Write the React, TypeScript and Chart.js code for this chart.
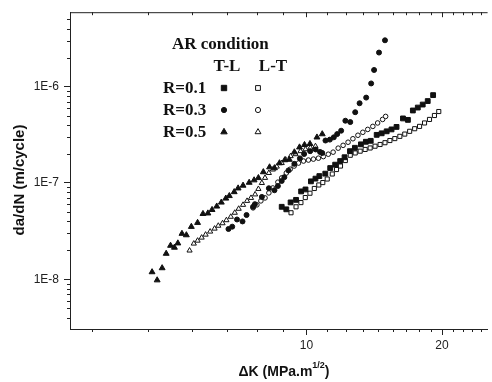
import React, { useEffect, useRef } from 'react';
import { Chart, registerables } from 'chart.js';

Chart.register(...registerables);

// ---------- data (ΔK in MPa·m^1/2, da/dN in m/cycle) ----------
const r01TL_dK = [8.81, 9.02, 9.22, 9.48, 9.73, 9.95, 10.23, 10.47, 10.68, 11.01, 11.29, 11.58, 11.88, 12.15, 12.49, 12.81, 13.21, 13.55, 13.89, 14.32, 14.69, 15.07, 15.45, 15.85, 16.38, 16.8, 17.23, 17.67, 18.12, 18.59, 19.11];
const r01TL_rate = [5.66e-8, 5.33e-8, 6.29e-8, 6.68e-8, 8.18e-8, 8.57e-8, 1.04e-7, 1.11e-7, 1.18e-7, 1.25e-7, 1.43e-7, 1.55e-7, 1.69e-7, 1.85e-7, 2.14e-7, 2.32e-7, 2.52e-7, 2.68e-7, 2.74e-7, 3.16e-7, 3.28e-7, 3.44e-7, 3.6e-7, 3.82e-7, 4.68e-7, 4.52e-7, 5.66e-7, 6.07e-7, 6.52e-7, 7.09e-7, 8.17e-7];

const r01LT_dK = [9.24, 9.48, 9.72, 9.94, 10.18, 10.41, 10.65, 10.87, 11.12, 11.41, 11.66, 11.9, 12.2, 12.51, 12.83, 13.16, 13.5, 13.85, 14.2, 14.57, 14.94, 15.32, 15.71, 16.12, 16.53, 16.95, 17.39, 17.83, 18.29, 18.76, 19.24, 19.67];
const r01LT_rate = [4.91e-8, 5.66e-8, 6.26e-8, 7.06e-8, 7.83e-8, 8.77e-8, 9.54e-8, 1.01e-7, 1.1e-7, 1.24e-7, 1.38e-7, 1.5e-7, 1.71e-7, 1.94e-7, 2.05e-7, 2.14e-7, 2.23e-7, 2.31e-7, 2.41e-7, 2.51e-7, 2.62e-7, 2.76e-7, 2.89e-7, 3.05e-7, 3.22e-7, 3.44e-7, 3.66e-7, 3.87e-7, 4.2e-7, 4.57e-7, 5.02e-7, 5.52e-7];

const r03TL_dK = [6.71, 6.84, 7.01, 7.21, 7.36, 7.61, 7.68, 7.96, 8.25, 8.49, 8.64, 8.81, 8.93, 9.12, 9.4, 9.67, 9.88, 10.19, 10.48, 10.72, 10.84, 11.02, 11.27, 11.5, 11.7, 11.94, 12.2, 12.51, 12.83, 13.12, 13.57, 13.92, 14.13, 14.49, 14.94];
const r03TL_rate = [3.33e-8, 3.52e-8, 4.18e-8, 3.99e-8, 4.65e-8, 5.66e-8, 6.03e-8, 7.17e-8, 8.82e-8, 8.41e-8, 9.31e-8, 1.05e-7, 1.15e-7, 1.35e-7, 1.58e-7, 1.8e-7, 2.0e-7, 2.14e-7, 2.23e-7, 2.1e-7, 2.05e-7, 2.76e-7, 2.82e-7, 2.98e-7, 3.22e-7, 3.49e-7, 4.43e-7, 4.29e-7, 5.43e-7, 6.73e-7, 7.7e-7, 1.08e-6, 1.49e-6, 2.26e-6, 3.03e-6];

const r03LT_dK = [7.61, 7.76, 7.92, 8.09, 8.25, 8.42, 8.64, 8.81, 9.02, 9.2, 9.39, 9.6, 9.85, 10.1, 10.36, 10.63, 10.9, 11.18, 11.46, 11.76, 12.06, 12.37, 12.68, 13.01, 13.34, 13.68, 14.04, 14.39, 14.76, 14.99];
const r03LT_rate = [5.52e-8, 5.93e-8, 6.52e-8, 7.0e-8, 7.89e-8, 8.88e-8, 1.02e-7, 1.13e-7, 1.27e-7, 1.39e-7, 1.5e-7, 1.61e-7, 1.69e-7, 1.73e-7, 1.77e-7, 1.81e-7, 1.88e-7, 1.99e-7, 2.09e-7, 2.3e-7, 2.46e-7, 2.65e-7, 2.88e-7, 3.13e-7, 3.36e-7, 3.6e-7, 3.87e-7, 4.2e-7, 4.57e-7, 4.91e-7];

const r05TL_dK = [4.54, 4.66, 4.78, 4.88, 4.99, 5.09, 5.18, 5.29, 5.41, 5.55, 5.73, 5.89, 6.04, 6.17, 6.32, 6.47, 6.62, 6.74, 6.91, 7.05, 7.23, 7.46, 7.65, 7.82, 8.02, 8.28, 8.49, 8.71, 8.95, 9.16, 9.4, 9.65, 9.9, 10.18, 10.55, 10.84];
const r05TL_rate = [1.19e-8, 9.8e-9, 1.31e-8, 1.85e-8, 2.24e-8, 2.14e-8, 2.37e-8, 2.98e-8, 2.88e-8, 3.52e-8, 3.87e-8, 4.79e-8, 4.85e-8, 5.27e-8, 5.72e-8, 6.29e-8, 6.92e-8, 7.35e-8, 8.07e-8, 8.82e-8, 9.42e-8, 1.01e-7, 1.07e-7, 1.13e-7, 1.3e-7, 1.46e-7, 1.43e-7, 1.61e-7, 1.73e-7, 1.75e-7, 2.09e-7, 2.35e-7, 2.49e-7, 2.55e-7, 2.98e-7, 3.22e-7];

const r05LT_dK = [5.5, 5.62, 5.73, 5.85, 5.97, 6.11, 6.25, 6.37, 6.51, 6.64, 6.79, 6.93, 7.07, 7.23, 7.38, 7.53, 7.69, 7.82, 7.96, 8.09, 8.25, 8.42, 8.59, 8.81, 8.99, 9.22, 9.46, 9.7, 9.95, 10.2, 10.47];
const r05LT_rate = [1.99e-8, 2.35e-8, 2.52e-8, 2.71e-8, 2.91e-8, 3.13e-8, 3.36e-8, 3.6e-8, 3.82e-8, 4.11e-8, 4.46e-8, 4.91e-8, 5.4e-8, 5.93e-8, 6.52e-8, 7.0e-8, 7.61e-8, 8.67e-8, 1.0e-7, 1.13e-7, 1.27e-7, 1.38e-7, 1.48e-7, 1.61e-7, 1.75e-7, 1.9e-7, 1.99e-7, 2.14e-7, 2.24e-7, 2.32e-7, 2.41e-7];

// ---------- ticks & text ----------
const xMajorTicks = [10, 20];
const xTickLabels = ['10', '20'];
const xMinorStep = 10 / 9;
const yMajorTicks = [1e-8, 1e-7, 1e-6];
const yTickLabels = ['1E-8', '1E-7', '1E-6'];
const legendTitle = 'AR condition';
const legendCols = ['T-L', 'L-T'];
const legendRows = ['R=0.1', 'R=0.3', 'R=0.5'];
const xTitleMain = 'ΔK (MPa.m';
const xTitleSup = '1/2';
const xTitleEnd = ')';
const yTitle = 'da/dN (m/cycle)';

const X_MIN = 2.984;
const X_MAX = 25.25;
const Y_MIN = 3.05e-9;
const Y_MAX = 5.93e-6;

const INK = '#111';
const AXIS = '#222';
const SANS = '"Liberation Sans", Arial, sans-serif';
const SERIF = '"Liberation Serif", "Times New Roman", serif';

function pairs(xs: number[], ys: number[]) {
  return xs.map((x, i) => ({ x, y: ys[i] }));
}
function majorIndex(v: number, list: number[]) {
  return list.findIndex((m) => Math.abs(v - m) / m < 1e-6);
}

function drawMarker(ctx: CanvasRenderingContext2D, shape: string, filled: boolean, x: number, y: number) {
  ctx.beginPath();
  if (shape === 'rect') {
    const s = filled ? 2.7 : 2.4;
    ctx.rect(x - s, y - s, 2 * s, 2 * s);
  } else if (shape === 'circle') {
    ctx.arc(x, y, filled ? 2.6 : 2.6, 0, Math.PI * 2);
  } else {
    const r = filled ? 3.7 : 3.4;
    ctx.moveTo(x, y - r);
    ctx.lineTo(x + r * 0.866, y + r * 0.5);
    ctx.lineTo(x - r * 0.866, y + r * 0.5);
    ctx.closePath();
  }
  ctx.fillStyle = filled ? INK : '#fff';
  ctx.fill();
  ctx.lineWidth = 1;
  ctx.strokeStyle = INK;
  ctx.stroke();
}

const decorPlugin = {
  id: 'decor',
  afterDraw(chart: any) {
    const { ctx, chartArea: ca } = chart;
    const xs = chart.scales.x;
    const ys = chart.scales.y;
    ctx.save();
    ctx.strokeStyle = AXIS;
    ctx.lineWidth = 1;
    ctx.beginPath();
    ctx.moveTo(ca.left, ca.top + 0.5);
    ctx.lineTo(ca.right, ca.top + 0.5);
    xs.ticks.forEach((t: any) => {
      const px = Math.round(xs.getPixelForValue(t.value)) + 0.5;
      const major = majorIndex(t.value, xMajorTicks) >= 0;
      if (!major) {
        ctx.moveTo(px, ca.bottom);
        ctx.lineTo(px, ca.bottom + 3);
      }
      ctx.moveTo(px, ca.top);
      ctx.lineTo(px, ca.top + (major ? 5 : 3));
    });
    ys.ticks.forEach((t: any) => {
      const py = Math.round(ys.getPixelForValue(t.value)) + 0.5;
      if (majorIndex(t.value, yMajorTicks) < 0) {
        ctx.moveTo(ca.left, py);
        ctx.lineTo(ca.left - 3, py);
      }
    });
    ctx.stroke();

    // axis titles
    ctx.fillStyle = INK;
    ctx.textBaseline = 'alphabetic';
    ctx.font = `bold 14px ${SANS}`;
    const w1 = ctx.measureText(xTitleMain).width;
    ctx.font = `bold 9px ${SANS}`;
    const w2 = ctx.measureText(xTitleSup).width;
    ctx.font = `bold 14px ${SANS}`;
    const w3 = ctx.measureText(xTitleEnd).width;
    let tx = 284 - (w1 + w2 + w3) / 2;
    ctx.textAlign = 'left';
    ctx.fillText(xTitleMain, tx, 376);
    tx += w1;
    ctx.font = `bold 9px ${SANS}`;
    ctx.fillText(xTitleSup, tx, 368);
    tx += w2;
    ctx.font = `bold 14px ${SANS}`;
    ctx.fillText(xTitleEnd, tx, 376);

    ctx.save();
    ctx.translate(20, 180);
    ctx.rotate(-Math.PI / 2);
    ctx.textAlign = 'center';
    ctx.textBaseline = 'middle';
    ctx.font = `bold 15px ${SANS}`;
    ctx.fillText(yTitle, 0, 0);
    ctx.restore();

    // legend
    ctx.font = `bold 17px ${SERIF}`;
    ctx.textAlign = 'left';
    ctx.textBaseline = 'alphabetic';
    ctx.fillText(legendTitle, 172, 49);
    ctx.textAlign = 'center';
    ctx.fillText(legendCols[0], 227, 71);
    ctx.fillText(legendCols[1], 273, 71);
    const shapes = ['rect', 'circle', 'triangle'];
    const rowY = [88, 110, 132];
    const rowBase = [93, 115, 137];
    legendRows.forEach((label, i) => {
      ctx.textAlign = 'left';
      ctx.fillStyle = INK;
      ctx.font = `bold 17px ${SERIF}`;
      ctx.fillText(label, 163, rowBase[i]);
      drawMarker(ctx, shapes[i], true, 224, rowY[i]);
      drawMarker(ctx, shapes[i], false, 258, rowY[i]);
    });
    ctx.restore();
  },
};

function ds(label: string, xs: number[], ys: number[], style: string, filled: boolean, r: number) {
  return {
    label,
    data: pairs(xs, ys),
    showLine: false,
    pointStyle: style,
    pointRadius: r,
    pointHoverRadius: r,
    pointBorderWidth: 1,
    pointBorderColor: INK,
    pointBackgroundColor: filled ? INK : '#fff',
  };
}

export default function App() {
  const ref = useRef<HTMLCanvasElement | null>(null);
  useEffect(() => {
    if (!ref.current) return;
    const chart = new Chart(ref.current, {
      type: 'scatter',
      data: {
        datasets: [
          ds('R=0.1 T-L', r01TL_dK, r01TL_rate, 'rect', true, 3.4),
          ds('R=0.3 T-L', r03TL_dK, r03TL_rate, 'circle', true, 2.5),
          ds('R=0.5 T-L', r05TL_dK, r05TL_rate, 'triangle', true, 3.4),
          ds('R=0.1 L-T', r01LT_dK, r01LT_rate, 'rect', false, 2.9),
          ds('R=0.3 L-T', r03LT_dK, r03LT_rate, 'circle', false, 2.3),
          ds('R=0.5 L-T', r05LT_dK, r05LT_rate, 'triangle', false, 3.0),
        ] as any,
      },
      options: {
        animation: false,
        responsive: true,
        maintainAspectRatio: false,
        layout: { padding: { top: 10, right: 0, bottom: 0, left: 0 } },
        plugins: { legend: { display: false }, tooltip: { enabled: false }, title: { display: false } },
        scales: {
          x: {
            type: 'logarithmic',
            min: X_MIN,
            max: X_MAX,
            bounds: 'data',
            afterBuildTicks: (scale: any) => {
              const t: { value: number }[] = [];
              for (let k = -6; k <= 13; k++) {
                const v = 10 + k * xMinorStep;
                if (v >= X_MIN && v <= X_MAX) t.push({ value: v });
              }
              scale.ticks = t;
            },
            afterFit: (scale: any) => {
              scale.height = 53;
            },
            grid: {
              drawOnChartArea: false,
              drawTicks: true,
              tickLength: 6,
              tickColor: (c: any) => (c.tick && majorIndex(c.tick.value, xMajorTicks) >= 0 ? AXIS : 'rgba(0,0,0,0)'),
            },
            border: { display: true, color: AXIS, width: 1 },
            ticks: {
              autoSkip: false,
              maxRotation: 0,
              minRotation: 0,
              padding: 3,
              color: AXIS,
              font: { family: SANS, size: 12 },
              callback: (value: any) => {
                const i = majorIndex(Number(value), xMajorTicks);
                return i >= 0 ? xTickLabels[i] : '';
              },
            },
          },
          y: {
            type: 'logarithmic',
            min: Y_MIN,
            max: Y_MAX,
            bounds: 'data',
            afterBuildTicks: (scale: any) => {
              const t: { value: number }[] = [];
              for (let e = -9; e <= -6; e++) {
                for (let m = 1; m <= 9; m++) {
                  const v = m * Math.pow(10, e);
                  if (v >= Y_MIN * 0.999 && v <= Y_MAX) t.push({ value: v });
                }
              }
              scale.ticks = t;
            },
            afterFit: (scale: any) => {
              scale.width = 70;
            },
            grid: {
              drawOnChartArea: false,
              drawTicks: true,
              tickLength: 6,
              tickColor: (c: any) => (c.tick && majorIndex(c.tick.value, yMajorTicks) >= 0 ? AXIS : 'rgba(0,0,0,0)'),
            },
            border: { display: true, color: AXIS, width: 1 },
            ticks: {
              autoSkip: false,
              padding: 5,
              color: AXIS,
              font: { family: SANS, size: 12 },
              callback: (value: any) => {
                const i = majorIndex(Number(value), yMajorTicks);
                return i >= 0 ? yTickLabels[i] : '';
              },
            },
          },
        },
      },
      plugins: [decorPlugin],
    });
    return () => chart.destroy();
  }, []);

  return (
    <div style={{ position: 'fixed', left: 0, top: 0, width: 492, height: 382, background: '#fff' }}>
      <canvas ref={ref} />
    </div>
  );
}
